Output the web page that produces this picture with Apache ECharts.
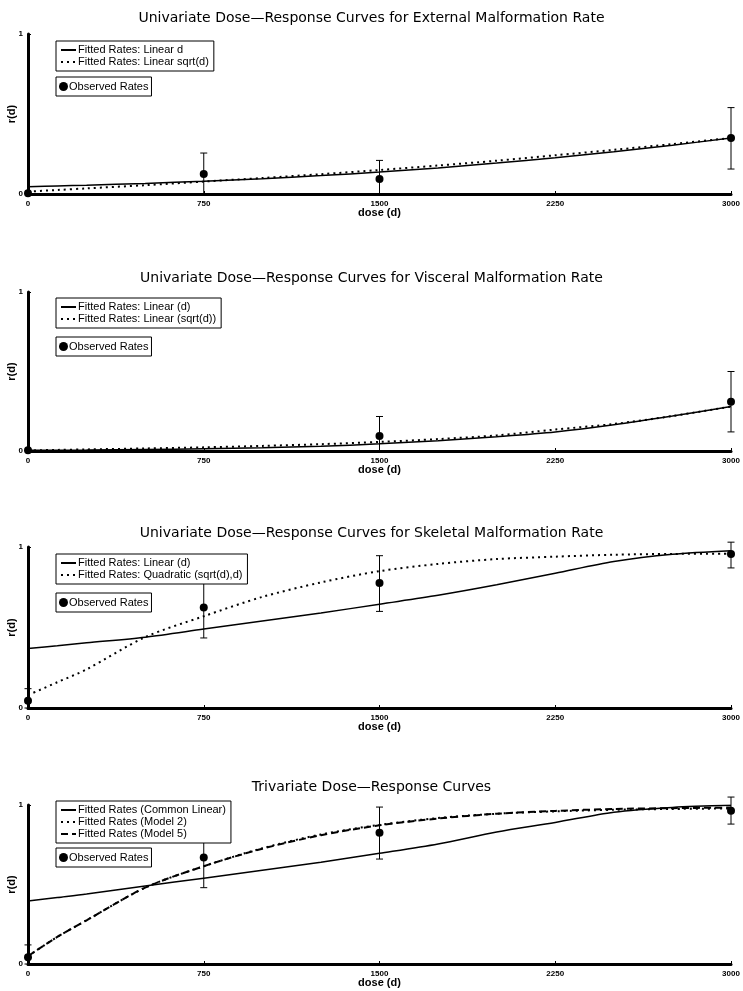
<!DOCTYPE html>
<html>
<head>
<meta charset="utf-8">
<script src="https://cdn.jsdelivr.net/npm/echarts@6/dist/echarts.min.js"></script>
<style>html,body{margin:0;padding:0;background:#fff}#c{width:743px;height:991px}</style>
</head>
<body>
<div id="c"></div>
<script>
// ---- data ----
const doses = [0, 125, 250, 500, 750, 1000, 1250, 1500, 1750, 2000, 2250, 2500, 2750, 3000];
const obsDoses = [0, 750, 1500, 3000];
const xTicks = [0, 750, 1500, 2250, 3000];

const titles = [
  'Univariate Dose\u2014Response Curves for External Malformation Rate',
  'Univariate Dose\u2014Response Curves for Visceral Malformation Rate',
  'Univariate Dose\u2014Response Curves for Skeletal Malformation Rate',
  'Trivariate Dose\u2014Response Curves'
];

// Panel 1: external
const extLinear = [0.045, 0.050, 0.055, 0.066, 0.080, 0.096, 0.115, 0.137, 0.163, 0.193, 0.226, 0.264, 0.305, 0.350];
const extSqrt   = [0.015, 0.025, 0.035, 0.055, 0.078, 0.100, 0.124, 0.150, 0.178, 0.208, 0.242, 0.276, 0.312, 0.350];
const extObs  = [0.005, 0.125, 0.094, 0.350];
const extLow  = [null, 0.0, 0.0, 0.156];
const extHigh = [null, 0.256, 0.210, 0.540];

// Panel 2: visceral
const viscLinear = [0.004, 0.005, 0.006, 0.009, 0.014, 0.020, 0.030, 0.045, 0.065, 0.090, 0.120, 0.165, 0.220, 0.280];
const viscSqrt   = [0.003, 0.007, 0.010, 0.016, 0.023, 0.032, 0.043, 0.057, 0.075, 0.098, 0.135, 0.170, 0.220, 0.280];
const viscObs  = [0.005, null, 0.095, 0.310];
const viscLow  = [null, null, 0.0, 0.120];
const viscHigh = [null, null, 0.217, 0.500];

// Panel 3: skeletal
const skelLinear = [0.370, 0.387, 0.405, 0.440, 0.490, 0.540, 0.590, 0.645, 0.700, 0.765, 0.837, 0.910, 0.955, 0.977];
const skelQuad   = [0.080, 0.160, 0.240, 0.440, 0.570, 0.690, 0.780, 0.850, 0.895, 0.925, 0.940, 0.952, 0.957, 0.958];
const skelObs  = [0.045, 0.625, 0.776, 0.957];
const skelLow  = [0.0, 0.435, 0.600, 0.870];
const skelHigh = [0.120, 0.815, 0.946, 1.030];

// Panel 4: trivariate
const triCommon = [0.396, 0.418, 0.440, 0.490, 0.540, 0.590, 0.640, 0.696, 0.755, 0.830, 0.890, 0.955, 0.985, 0.998];
const triModel2 = [0.050, 0.170, 0.275, 0.480, 0.615, 0.728, 0.815, 0.875, 0.918, 0.945, 0.960, 0.970, 0.975, 0.978];
const triModel5 = [0.050, 0.170, 0.275, 0.480, 0.615, 0.725, 0.810, 0.872, 0.915, 0.945, 0.963, 0.975, 0.980, 0.984];
const triObs  = [0.042, 0.670, 0.826, 0.964];
const triLow  = [0.0, 0.480, 0.660, 0.880];
const triHigh = [0.120, 0.860, 0.987, 1.050];

// ---- layout ----
const gridTops = [34, 292, 547, 805];
const gridBottoms = [194, 451, 708, 964];
const titleTops = [6, 266, 521, 775];
const legend1Tops = [41, 298, 554, 801];
const legend2Tops = [77, 337, 593, 848];

const FONT = 'Liberation Sans';

const panels = [
  {lines: [['Fitted Rates: Linear d', extLinear, 'solid'], ['Fitted Rates: Linear sqrt(d)', extSqrt, 'dotted']],
   obs: extObs, low: extLow, high: extHigh},
  {lines: [['Fitted Rates: Linear (d)', viscLinear, 'solid'], ['Fitted Rates: Linear (sqrt(d))', viscSqrt, 'dotted']],
   obs: viscObs, low: viscLow, high: viscHigh},
  {lines: [['Fitted Rates: Linear (d)', skelLinear, 'solid'], ['Fitted Rates: Quadratic (sqrt(d),d)', skelQuad, 'dotted']],
   obs: skelObs, low: skelLow, high: skelHigh},
  {lines: [['Fitted Rates (Common Linear)', triCommon, 'solid'], ['Fitted Rates (Model 2)', triModel2, 'dotted'], ['Fitted Rates (Model 5)', triModel5, 'dashed']],
   obs: triObs, low: triLow, high: triHigh}
];

const lineTypes = {solid: {type: 'solid', width: 1.5}, dotted: {type: [2, 4], width: 2}, dashed: {type: [7, 4], width: 2}};

const option = {
  animation: false,
  backgroundColor: '#fff',
  title: [], grid: [], xAxis: [], yAxis: [], legend: [], series: []
};

panels.forEach((p, i) => {
  option.title.push({
    text: titles[i], left: 'center', top: titleTops[i],
    textStyle: {fontFamily: 'DejaVu Sans', fontSize: 14, fontWeight: 'normal', color: '#000'}
  });
  option.grid.push({left: 28, right: 12, top: gridTops[i], height: gridBottoms[i] - gridTops[i],
    containLabel: false, outerBoundsMode: 'none'});
  option.xAxis.push({
    type: 'value', gridIndex: i, min: 0, max: 3000, interval: 750,
    name: 'dose (d)', nameLocation: 'middle', nameGap: 13, nameMoveOverlap: false,
    nameTextStyle: {fontFamily: FONT, fontSize: 11, fontWeight: 'bold', color: '#000', verticalAlign: 'top'},
    axisLine: {lineStyle: {color: '#000', width: 3}},
    axisTick: {inside: true, length: 3, lineStyle: {color: '#000', width: 1}},
    axisLabel: {fontFamily: FONT, fontSize: 8, fontWeight: 'bold', color: '#000', margin: 6,
      formatter: v => xTicks.indexOf(v) >= 0 ? String(v) : ''},
    splitLine: {show: false}
  });
  option.yAxis.push({
    type: 'value', gridIndex: i, min: 0, max: 1, interval: 1,
    name: 'r(d)', nameLocation: 'middle', nameGap: 11, nameMoveOverlap: false,
    nameTextStyle: {fontFamily: FONT, fontSize: 11, fontWeight: 'bold', color: '#000'},
    axisLine: {show: true, lineStyle: {color: '#000', width: 3}},
    axisTick: {show: true, inside: true, length: 3, lineStyle: {color: '#000', width: 1}},
    axisLabel: {fontFamily: FONT, fontSize: 8, fontWeight: 'bold', color: '#000', margin: 5},
    splitLine: {show: false}
  });
  p.lines.forEach(([name, vals, t]) => {
    option.series.push({
      type: 'line', name, xAxisIndex: i, yAxisIndex: i, showSymbol: false, symbol: 'none',
      smooth: 0.3, data: doses.map((d, k) => [d, vals[k]]),
      lineStyle: Object.assign({color: '#000'}, lineTypes[t]), itemStyle: {color: '#000'}, z: 3
    });
  });
  option.series.push({
    type: 'custom', name: 'err' + i, xAxisIndex: i, yAxisIndex: i, clip: false,
    data: obsDoses.map((d, k) => [d, p.low[k], p.high[k]]).filter(r => r[1] !== null),
    encode: {x: 0, y: [1, 2]},
    renderItem: (params, api) => {
      const lo = api.coord([api.value(0), api.value(1)]);
      const hi = api.coord([api.value(0), api.value(2)]);
      const w = 3.5;
      const st = {stroke: '#000', lineWidth: 1};
      return {type: 'group', children: [
        {type: 'line', shape: {x1: lo[0], y1: lo[1], x2: hi[0], y2: hi[1]}, style: st},
        {type: 'line', shape: {x1: hi[0] - w, y1: hi[1], x2: hi[0] + w, y2: hi[1]}, style: st},
        {type: 'line', shape: {x1: lo[0] - w, y1: lo[1], x2: lo[0] + w, y2: lo[1]}, style: st}
      ]};
    },
    z: 4
  });
  option.series.push({
    type: 'scatter', name: 'Observed Rates', xAxisIndex: i, yAxisIndex: i, symbol: 'circle', symbolSize: 8,
    data: obsDoses.map((d, k) => [d, p.obs[k]]).filter(r => r[1] !== null),
    itemStyle: {color: '#000', opacity: 1}, clip: false, z: 5
  });
  option.legend.push({
    left: 56, top: legend1Tops[i], orient: 'vertical', itemGap: 0, itemWidth: 15, itemHeight: 10, z: 20,
    padding: [3, 5, 3, 4], backgroundColor: '#fff', borderColor: '#000', borderWidth: 1, borderRadius: 0,
    selectedMode: false, data: p.lines.map(l => l[0]),
    itemStyle: {opacity: 0},
    textStyle: {fontFamily: FONT, fontSize: 11, color: '#000', lineHeight: 12, padding: [0, 0, 0, -3]}
  });
  option.legend.push({
    left: 56, top: legend2Tops[i], orient: 'vertical', itemWidth: 9, itemHeight: 9, z: 20,
    padding: [4, 3, 4, 3], backgroundColor: '#fff', borderColor: '#000', borderWidth: 1, borderRadius: 0,
    selectedMode: false, data: [{name: 'Observed Rates', icon: 'circle', itemStyle: {color: '#000', opacity: 1}}],
    textStyle: {fontFamily: FONT, fontSize: 11, color: '#000', padding: [0, 0, 0, -4]}
  });
});

const chart = echarts.init(document.getElementById('c'), null, {renderer: 'canvas'});
chart.setOption(option);
</script>
</body>
</html>
